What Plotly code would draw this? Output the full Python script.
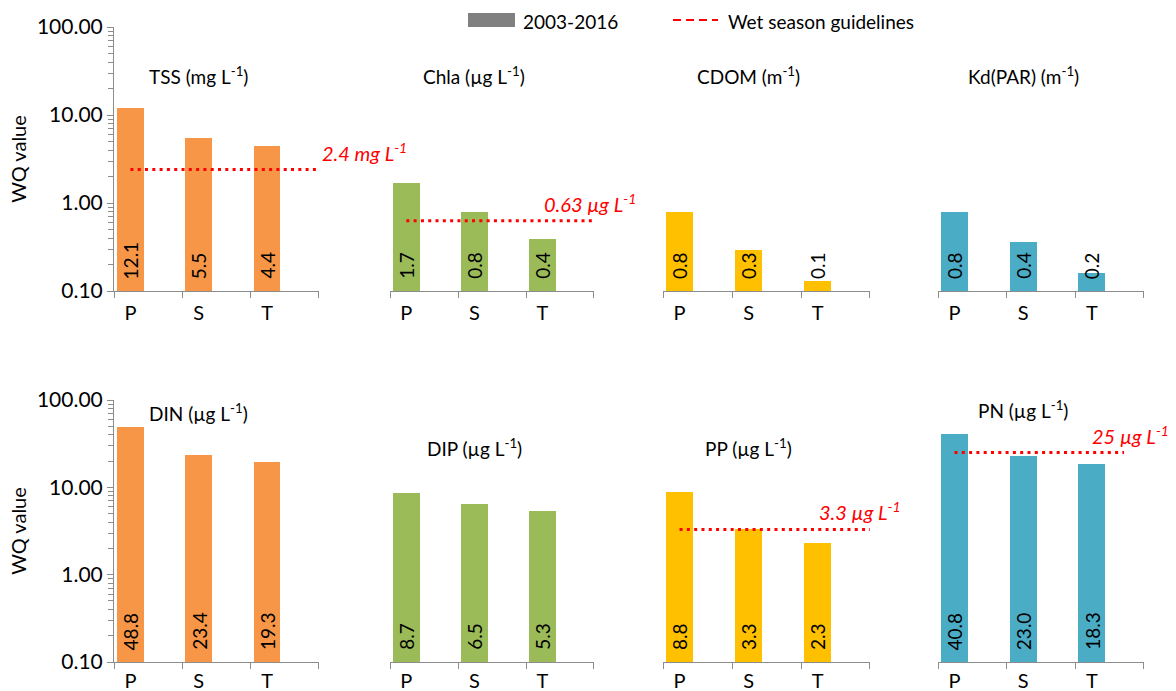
import math
import plotly.graph_objects as go

# ---- data ----
categories = ["P", "S", "T"]

tss = [12.1, 5.5, 4.4]
chla = [1.67, 0.80, 0.39]
cdom = [0.80, 0.29, 0.13]
kd_par = [0.80, 0.36, 0.16]
din = [48.8, 23.4, 19.3]
dip = [8.7, 6.5, 5.3]
pp = [8.8, 3.3, 2.3]
pn = [40.8, 23.0, 18.3]

panel_values = [tss, chla, cdom, kd_par, din, dip, pp, pn]
panel_titles = [
    "TSS (mg L<sup>-1</sup>)", "Chla (µg L<sup>-1</sup>)", "CDOM (m<sup>-1</sup>)",
    "Kd(PAR) (m<sup>-1</sup>)", "DIN (µg L<sup>-1</sup>)", "DIP (µg L<sup>-1</sup>)",
    "PP (µg L<sup>-1</sup>)", "PN (µg L<sup>-1</sup>)",
]

# wet season guideline per panel (None = no guideline)
guideline_values = [2.4, 0.63, None, None, None, None, 3.3, 25]
guideline_texts = ["2.4 mg L<sup>-1</sup>", "0.63 µg L<sup>-1</sup>", None, None,
                   None, None, "3.3 µg L<sup>-1</sup>", "25 µg L<sup>-1</sup>"]

y_ticks = [0.1, 1, 10, 100]
y_ticktext = ["0.10", "1.00", "10.00", "100.00"]

# ---- styling ----
bar_colors = ["#F79646", "#9BBB59", "#FFC000", "#4BACC6"] * 2
axis_gray = "#8C8C8C"
FONT = "Lato"
W, H = 1176, 691

# plot-area placement (pixels)
col_px = [(114, 319), (390, 594), (663, 870), (938, 1144)]
row_px = [(27, 291), (400, 662)]
x_range = [-0.2401, 2.7601]
boundaries = [-0.24, 0.76, 1.76, 2.76]
guide_end = [3.0, 3.0, None, None, None, None, 3.0, 2.47]
guide_label_x = [4.07, 3.41, None, None, None, None, 3.24, 3.16]
title_ydomain = [0.818, 0.818, 0.818, 0.818, 0.954, 0.82, 0.82, 0.962]


def px_x(v):
    return v / W


def px_y(v):
    return 1 - v / H


def x_to_domain(v):
    return (v - x_range[0]) / (x_range[1] - x_range[0])


fig = go.Figure()
layout = dict(
    width=W, height=H,
    margin=dict(l=0, r=0, t=0, b=0, autoexpand=False),
    paper_bgcolor="white", plot_bgcolor="white",
    showlegend=False,
    font=dict(family=FONT, size=20, color="#000000"),
    bargap=0,
)
annotations = []
shapes = []

for i, vals in enumerate(panel_values):
    k = i + 1
    r, c = divmod(i, 4)
    xa = "x" if k == 1 else f"x{k}"
    ya = "y" if k == 1 else f"y{k}"
    xkey = "xaxis" if k == 1 else f"xaxis{k}"
    ykey = "yaxis" if k == 1 else f"yaxis{k}"

    fig.add_trace(go.Bar(
        x=list(range(len(categories))), y=vals, width=0.39,
        marker=dict(color=bar_colors[i], line=dict(width=0)),
        xaxis=xa, yaxis=ya, hoverinfo="skip",
    ))

    layout[xkey] = dict(
        domain=[px_x(col_px[c][0]), px_x(col_px[c][1])], anchor=ya,
        range=x_range, showline=True, linecolor=axis_gray, linewidth=1,
        tickmode="array", tickvals=list(range(len(categories))), ticktext=categories,
        ticks="", showgrid=False, zeroline=False,
        ticklabelstandoff=4 if r == 0 else 1,
        automargin=False,
        tickfont=dict(size=20, color="#000000", family=FONT),
        minor=dict(tickmode="array", tickvals=boundaries, ticks="outside",
                   ticklen=6, tickcolor=axis_gray, tickwidth=1, showgrid=False),
        fixedrange=True,
    )
    ydict = dict(
        domain=[px_y(row_px[r][1]), px_y(row_px[r][0])], anchor=xa,
        type="log", range=[-1, 2], showgrid=False, zeroline=False, fixedrange=True,
        automargin=False,
    )
    if c == 0:
        ydict.update(
            showline=True, linecolor=axis_gray, linewidth=1,
            tickmode="array", tickvals=y_ticks, ticktext=y_ticktext,
            ticks="outside", ticklen=6, tickcolor=axis_gray,
            tickfont=dict(size=21, color="#000000", family=FONT),
            minor=dict(tickmode="array",
                       tickvals=[m * 10 ** e for e in (-1, 0, 1) for m in range(2, 10)],
                       ticks="outside", ticklen=5, tickcolor=axis_gray, showgrid=False),
            title=dict(text="WQ value", font=dict(size=20, family=FONT), standoff=4),
        )
    else:
        # shared log scale, drawn without line, ticks or labels
        ydict.update(showline=False, ticks="", showticklabels=False,
                     tickmode="array", tickvals=[])
    layout[ykey] = ydict

    # panel title
    annotations.append(dict(
        x=1, y=title_ydomain[i], xref=xa, yref=f"{ya} domain",
        text=panel_titles[i], showarrow=False, xanchor="center", yanchor="middle",
        font=dict(size=19, family=FONT, color="#000000"),
    ))

    # value labels along the bar base
    for j, v in enumerate(vals):
        annotations.append(dict(
            x=j, y=-1, xref=xa, yref=ya, text=f"{v:.1f}", showarrow=False,
            textangle=-90, xanchor="center", yanchor="bottom", yshift=10,
            font=dict(size=19, family=FONT, color="#000000"),
        ))

    # guideline
    g = guideline_values[i]
    if g is not None:
        shapes.append(dict(
            type="line", xref=xa, yref=ya, x0=0, x1=guide_end[i], y0=g, y1=g,
            line=dict(color="#FF0000", width=3, dash="3px,4.3px"), layer="above",
        ))
        annotations.append(dict(
            x=x_to_domain(guide_label_x[i]), y=math.log10(g),
            xref=f"{xa} domain", yref=ya,
            text=f"<i>{guideline_texts[i]}</i>", showarrow=False,
            xanchor="right", yanchor="middle", yshift=18,
            font=dict(size=20, family=FONT, color="#FF0000"),
        ))

# legend
shapes.append(dict(type="rect", xref="paper", yref="paper",
                   x0=px_x(468), x1=px_x(515), y0=px_y(27), y1=px_y(13),
                   fillcolor="#808080", line=dict(width=0)))
annotations.append(dict(x=px_x(521), y=px_y(21), xref="paper", yref="paper",
                        text="2003-2016", showarrow=False, xanchor="left", yanchor="middle",
                        font=dict(size=19, family=FONT, color="#000000")))
shapes.append(dict(type="line", xref="paper", yref="paper",
                   x0=px_x(673), x1=px_x(718), y0=px_y(20), y1=px_y(20),
                   line=dict(color="#FF0000", width=2, dash="8px,5px")))
annotations.append(dict(x=px_x(726), y=px_y(21), xref="paper", yref="paper",
                        text="Wet season guidelines", showarrow=False, xanchor="left",
                        yanchor="middle", font=dict(size=19, family=FONT, color="#000000")))

layout["annotations"] = annotations
layout["shapes"] = shapes
fig.update_layout(**layout)

fig.write_html("out.html")
